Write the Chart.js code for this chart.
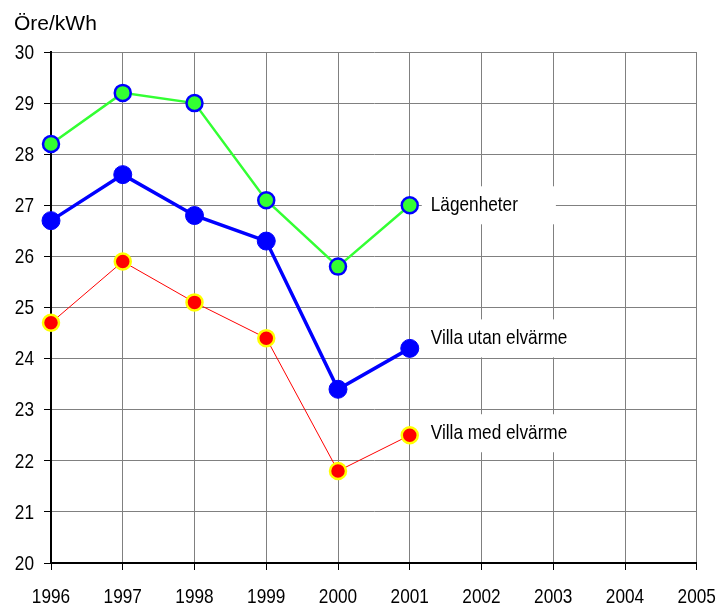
<!DOCTYPE html>
<html><head><meta charset="utf-8">
<script src="https://cdn.jsdelivr.net/npm/chart.js@4/dist/chart.umd.min.js"></script>
<style>html,body{margin:0;padding:0;background:#fff}#w{position:relative;width:723px;height:607px}</style>
</head><body><div id="w"><canvas id="c" width="723" height="607"></canvas></div>
<script>
const years = [1996, 1997, 1998, 1999, 2000, 2001];
const lagenheter = [28.2, 29.2, 29.0, 27.1, 25.8, 27.0];
const villaUtan = [26.7, 27.6, 26.8, 26.3, 23.4, 24.2];
const villaMed = [24.7, 25.9, 25.1, 24.4, 21.8, 22.5];
const seriesNames = ['Lägenheter', 'Villa utan elvärme', 'Villa med elvärme'];
const yTitle = 'Öre/kWh';

const pts = arr => years.map((y, i) => ({x: y, y: arr[i]}));
const FONT = '21px "Liberation Sans", Arial, sans-serif';
const SX = 0.82;

function narrowText(ctx, text, x, y, align) {
  const w = ctx.measureText(text).width * SX;
  let left = x;
  if (align === 'center') left = x - w / 2;
  else if (align === 'right') left = x - w;
  ctx.save();
  ctx.translate(left, y);
  ctx.scale(SX, 1);
  ctx.textAlign = 'left';
  ctx.fillText(text, 0, 0);
  ctx.restore();
  return w;
}

const labelPlugin = {
  id: 'endLabels',
  beforeDatasetsDraw(chart) {
    const ctx = chart.ctx;
    ctx.save();
    ctx.font = FONT;
    chart.data.datasets.forEach((ds, i) => {
      const meta = chart.getDatasetMeta(i);
      const p = meta.data[meta.data.length - 1];
      const ty = p.y + ds.labelDy;
      const w = ctx.measureText(ds.label).width * SX;
      ctx.fillStyle = '#fff';
      ctx.fillRect(p.x + 12, ty - 19, w + 47, 38);
    });
    ctx.restore();
  },
  afterDraw(chart) {
    const ctx = chart.ctx;
    ctx.save();
    ctx.font = FONT;
    ctx.fillStyle = '#000';
    ctx.textBaseline = 'middle';
    chart.data.datasets.forEach((ds, i) => {
      const meta = chart.getDatasetMeta(i);
      const p = meta.data[meta.data.length - 1];
      narrowText(ctx, ds.label, p.x + 21, p.y + ds.labelDy, 'left');
    });
    // tick labels
    const xs = chart.scales.x, ys = chart.scales.y;
    ctx.textBaseline = 'alphabetic';
    xs.ticks.forEach(t => {
      narrowText(ctx, String(t.value), xs.getPixelForValue(t.value), 603, 'center');
    });
    ctx.textBaseline = 'middle';
    ys.ticks.forEach(t => {
      narrowText(ctx, String(t.value), 34, ys.getPixelForValue(t.value) + 1, 'right');
    });
    // title
    ctx.font = '21px "Liberation Sans", Arial, sans-serif';
    ctx.textBaseline = 'alphabetic';
    ctx.fillText(yTitle, 14, 30);
    ctx.restore();
  }
};

new Chart(document.getElementById('c'), {
  type: 'line',
  data: {
    datasets: [
      {label: seriesNames[0], data: pts(lagenheter), borderColor: '#33ff33', borderWidth: 2.5, clip: false,
       pointBackgroundColor: '#33ff33', pointBorderColor: '#0000ff', pointBorderWidth: 2.5, pointRadius: 8, labelDy: 0, order: 3},
      {label: seriesNames[1], data: pts(villaUtan), borderColor: '#0000ff', borderWidth: 3.5, clip: false,
       pointBackgroundColor: '#0000ff', pointBorderColor: '#0000ff', pointBorderWidth: 1, pointRadius: 9, labelDy: -10, order: 2},
      {label: seriesNames[2], data: pts(villaMed), borderColor: '#ff0000', borderWidth: 1, clip: false,
       pointBackgroundColor: '#ff0000', pointBorderColor: '#ffff00', pointBorderWidth: 2.5, pointRadius: 8, labelDy: -2, order: 1}
    ]
  },
  options: {
    responsive: false, animation: false,
    layout: {padding: {top: 52, right: 22, left: 0, bottom: 0}},
    plugins: {legend: {display: false}, tooltip: {enabled: false}},
    elements: {line: {tension: 0}},
    scales: {
      x: {type: 'linear', min: 1996, max: 2005,
          ticks: {stepSize: 1, color: 'rgba(0,0,0,0)', font: {size: 20}, padding: 4, maxRotation: 0,
                  callback: v => String(v)},
          grid: {color: '#808080', lineWidth: 1, tickLength: 7, tickColor: '#000'},
          border: {color: '#000', width: 2},
          afterFit: s => { s.height = 607 - 563; }},
      y: {min: 20, max: 30,
          ticks: {stepSize: 1, color: 'rgba(0,0,0,0)', font: {size: 20}, padding: 9},
          grid: {color: '#808080', lineWidth: 1, tickLength: 7, tickColor: '#000'},
          border: {color: '#000', width: 2},
          afterFit: s => { s.width = 51; }}
    }
  },
  plugins: [labelPlugin]
});
</script></body></html>
